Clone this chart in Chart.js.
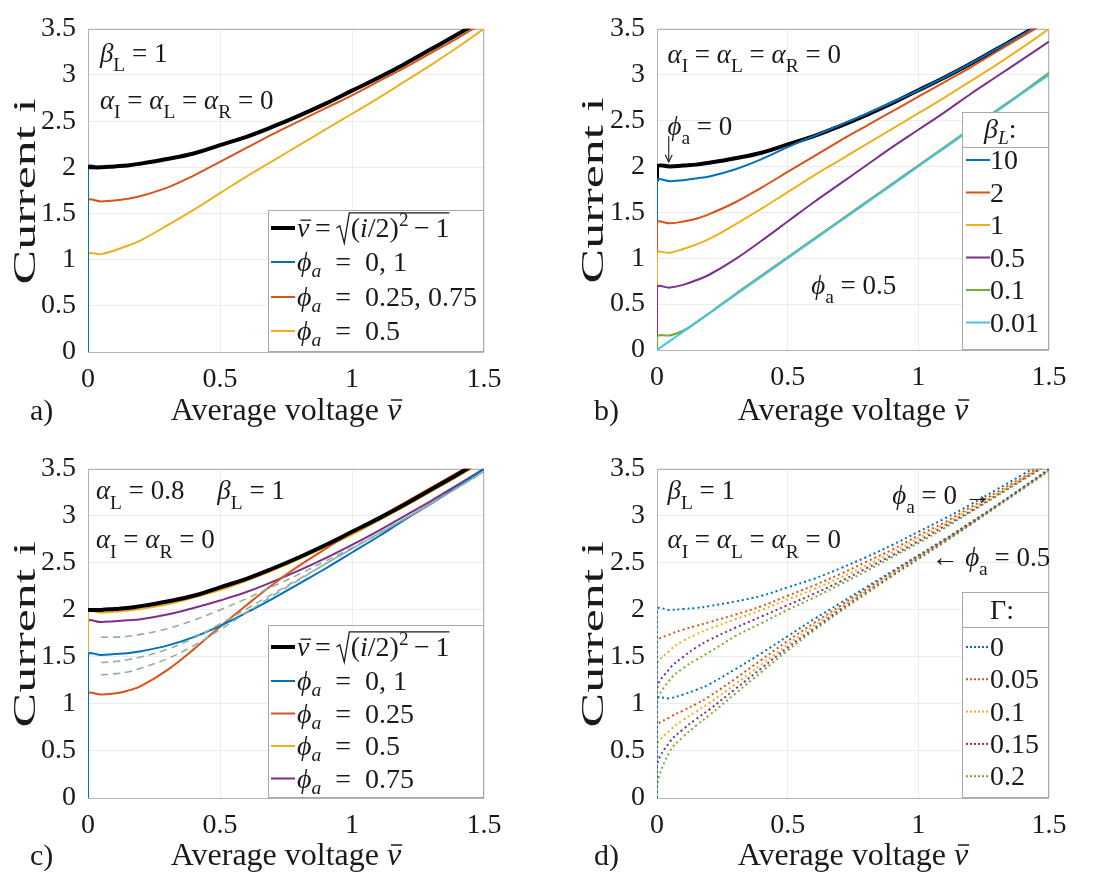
<!DOCTYPE html>
<html>
<head>
<meta charset="utf-8">
<title>SQUID current–voltage characteristics</title>
<script src="https://cdn.jsdelivr.net/npm/chart.js@4.4.1/dist/chart.umd.min.js"></script>
<style>
  html, body { margin: 0; padding: 0; background: #ffffff; }
  #fig { position: relative; width: 1101px; height: 880px; overflow: hidden; }
  #fig canvas { position: absolute; }
</style>
</head>
<body>
<div id="fig">
  <canvas id="panelA" width="550" height="440" style="left:0px;top:0px"></canvas>
  <canvas id="panelB" width="551" height="440" style="left:550px;top:0px"></canvas>
  <canvas id="panelC" width="550" height="440" style="left:0px;top:440px"></canvas>
  <canvas id="panelD" width="551" height="440" style="left:550px;top:440px"></canvas>
</div>
<script>
// ---- shared voltage grid (the repeated 0 gives the vertical zero-voltage branch) ----
const V = [0, 0, 0.05, 0.1, 0.15, 0.2, 0.3, 0.4, 0.5, 0.6, 0.7, 0.8, 0.9, 1.0, 1.1, 1.2, 1.3, 1.4, 1.5];

const xTicks = [0, 0.5, 1, 1.5];
const xTickLabels = ['0', '0.5', '1', '1.5'];
const yTicks = [0, 0.5, 1, 1.5, 2, 2.5, 3, 3.5];
const yTickLabels = ['0', '0.5', '1', '1.5', '2', '2.5', '3', '3.5'];

// ---- a) beta_L = 1, alpha = 0 ----
const aAnalytic = [null, 2.00, 2.00, 2.01, 2.02, 2.04, 2.09, 2.15, 2.24, 2.33, 2.44, 2.56, 2.69, 2.83, 2.97, 3.12, 3.28, 3.44, 3.61];
const aPhi0     = [0, 2.00, 2.00, 2.01, 2.02, 2.04, 2.09, 2.15, 2.24, 2.33, 2.44, 2.56, 2.69, 2.83, 2.97, 3.12, 3.28, 3.44, 3.61];
const aPhi025   = [0, 1.63, 1.63, 1.64, 1.66, 1.69, 1.78, 1.91, 2.06, 2.21, 2.36, 2.50, 2.64, 2.78, 2.93, 3.08, 3.24, 3.40, 3.57];
const aPhi05    = [0, 1.05, 1.06, 1.10, 1.15, 1.21, 1.37, 1.54, 1.72, 1.90, 2.07, 2.24, 2.41, 2.58, 2.75, 2.93, 3.11, 3.30, 3.50];

// ---- b) phi_a = 0.5 for several beta_L ----
const bAnalytic = [1.84, 2.00, 2.00, 2.01, 2.02, 2.04, 2.09, 2.15, 2.24, 2.33, 2.44, 2.56, 2.69, 2.83, 2.97, 3.12, 3.28, 3.44, 3.61];
const bBeta10   = [0, 1.84, 1.84, 1.85, 1.87, 1.89, 1.97, 2.08, 2.21, 2.33, 2.45, 2.57, 2.70, 2.83, 2.97, 3.12, 3.28, 3.44, 3.61];
const bBeta2    = [0, 1.38, 1.38, 1.40, 1.43, 1.48, 1.61, 1.77, 1.94, 2.11, 2.28, 2.44, 2.60, 2.76, 2.92, 3.08, 3.25, 3.42, 3.59];
const bBeta1    = [0, 1.05, 1.06, 1.10, 1.15, 1.21, 1.37, 1.54, 1.72, 1.90, 2.07, 2.24, 2.41, 2.58, 2.75, 2.93, 3.11, 3.30, 3.50];
const bBeta05   = [0, 0.68, 0.68, 0.71, 0.76, 0.82, 0.99, 1.19, 1.40, 1.61, 1.81, 2.01, 2.21, 2.40, 2.59, 2.79, 2.98, 3.17, 3.36];
const bBeta01   = [0, 0.15, 0.16, 0.21, 0.30, 0.40, 0.61, 0.81, 1.01, 1.21, 1.41, 1.61, 1.81, 2.01, 2.21, 2.41, 2.61, 2.81, 3.02];
const bBeta001  = [0, 0.00, 0.10, 0.20, 0.30, 0.40, 0.60, 0.80, 1.00, 1.20, 1.40, 1.60, 1.80, 2.00, 2.20, 2.40, 2.60, 2.80, 3.00];

// ---- c) alpha_L = 0.8, beta_L = 1 ----
const cAnalytic = [null, 2.00, 2.00, 2.01, 2.02, 2.04, 2.09, 2.15, 2.24, 2.33, 2.44, 2.56, 2.69, 2.83, 2.97, 3.12, 3.28, 3.44, 3.61];
const cPhi0     = [0, 1.52, 1.52, 1.53, 1.54, 1.56, 1.62, 1.71, 1.83, 1.97, 2.12, 2.28, 2.44, 2.61, 2.78, 2.96, 3.13, 3.31, 3.50];
const cPhi025   = [0, 1.10, 1.10, 1.11, 1.14, 1.19, 1.36, 1.58, 1.82, 2.05, 2.27, 2.47, 2.65, 2.82, 2.98, 3.14, 3.30, 3.46, 3.62];
const cPhi05    = [0, 1.97, 1.97, 1.98, 1.99, 2.01, 2.06, 2.13, 2.21, 2.31, 2.42, 2.54, 2.67, 2.80, 2.95, 3.10, 3.26, 3.42, 3.58];
const cPhi075   = [0, 1.87, 1.87, 1.88, 1.89, 1.90, 1.95, 2.02, 2.10, 2.19, 2.30, 2.42, 2.55, 2.69, 2.84, 3.00, 3.16, 3.33, 3.50];
const cRef1     = [null, null, 1.71, 1.71, 1.72, 1.74, 1.80, 1.89, 2.00, 2.12, 2.25, 2.38, 2.52, 2.66, 2.81, 2.97, 3.13, 3.30, 3.47];
const cRef2     = [null, null, 1.44, 1.45, 1.47, 1.50, 1.58, 1.70, 1.85, 2.01, 2.17, 2.33, 2.49, 2.65, 2.81, 2.97, 3.13, 3.30, 3.47];
const cRef3     = [null, null, 1.31, 1.32, 1.34, 1.38, 1.48, 1.62, 1.79, 1.97, 2.15, 2.32, 2.49, 2.65, 2.81, 2.97, 3.13, 3.30, 3.47];

// ---- d) thermal noise Gamma, phi_a = 0 (upper) and 0.5 (lower) ----
const dGammaLabels = ['0', '0.05', '0.1', '0.15', '0.2'];
const dUpper = [
  [0, 2.00, 2.00, 2.01, 2.02, 2.04, 2.09, 2.15, 2.24, 2.33, 2.44, 2.56, 2.69, 2.83, 2.97, 3.12, 3.28, 3.44, 3.61],
  [0, 1.65, 1.74, 1.79, 1.83, 1.87, 1.95, 2.04, 2.15, 2.26, 2.38, 2.51, 2.64, 2.79, 2.93, 3.09, 3.25, 3.41, 3.58],
  [0, 1.40, 1.57, 1.67, 1.74, 1.80, 1.90, 2.00, 2.11, 2.22, 2.34, 2.47, 2.61, 2.76, 2.91, 3.07, 3.23, 3.40, 3.57],
  [0, 1.15, 1.38, 1.50, 1.60, 1.68, 1.81, 1.93, 2.05, 2.17, 2.30, 2.44, 2.58, 2.73, 2.89, 3.05, 3.22, 3.39, 3.56],
  [0, 1.00, 1.26, 1.38, 1.47, 1.55, 1.72, 1.86, 2.00, 2.13, 2.27, 2.41, 2.56, 2.71, 2.87, 3.04, 3.21, 3.38, 3.55]
];
const dLower = [
  [0, 1.05, 1.06, 1.10, 1.15, 1.21, 1.37, 1.54, 1.72, 1.90, 2.07, 2.24, 2.41, 2.58, 2.75, 2.93, 3.11, 3.30, 3.50],
  [0, 0.75, 0.86, 0.93, 1.00, 1.08, 1.27, 1.47, 1.67, 1.86, 2.04, 2.22, 2.40, 2.57, 2.74, 2.92, 3.11, 3.30, 3.49],
  [0, 0.55, 0.72, 0.83, 0.92, 1.01, 1.21, 1.42, 1.63, 1.83, 2.02, 2.20, 2.38, 2.56, 2.74, 2.92, 3.10, 3.29, 3.48],
  [0, 0.35, 0.60, 0.73, 0.84, 0.94, 1.16, 1.38, 1.60, 1.80, 2.00, 2.19, 2.37, 2.55, 2.73, 2.91, 3.10, 3.29, 3.48],
  [0, 0.15, 0.50, 0.65, 0.77, 0.88, 1.11, 1.34, 1.57, 1.78, 1.98, 2.17, 2.36, 2.54, 2.72, 2.91, 3.10, 3.29, 3.48]
];

const bBetaLabels = ['10', '2', '1', '0.5', '0.1', '0.01'];

// ---------------------------------------------------------------------------
const COL = { blue: '#0072BD', red: '#D95319', yellow: '#EDB120', purple: '#7E2F8E', green: '#77AC30', cyan: '#4DBEEE' };
const ORDER = [COL.blue, COL.red, COL.yellow, COL.purple, COL.green, COL.cyan];
const INK = '#1a1a1a';

// a face counts as serif only if its capital I really has wider feet than stem
function hasSerifs(family) {
  const cv = document.createElement('canvas');
  cv.width = 220; cv.height = 220;
  const c = cv.getContext('2d');
  c.fillStyle = '#ffffff'; c.fillRect(0, 0, 220, 220);
  c.fillStyle = '#000000';
  c.font = '150px ' + family + ', sans-serif';
  c.textBaseline = 'alphabetic';
  c.fillText('I', 60, 180);
  const img = c.getImageData(0, 0, 220, 220).data;
  const ink = row => { let n = 0; for (let x = 0; x < 220; x++) if (img[(row * 220 + x) * 4] < 128) n++; return n; };
  let top = -1, bot = -1;
  for (let y = 0; y < 220; y++) if (ink(y) > 0) { if (top < 0) top = y; bot = y; }
  if (top < 0) return false;
  return ink(bot - 2) > 1.6 * ink(Math.round((top + bot) / 2));
}
function pickSerif(list) {
  for (const f of list) if (hasSerifs(f)) return f + ', serif';
  return '"DejaVu Serif", serif';
}
const SERIF = pickSerif(['"Liberation Serif"', '"DejaVu Serif"', 'Tinos', '"Times New Roman"', '"Noto Serif"', 'FreeSerif', '"Nimbus Roman"', 'serif']);
const fnt = (size, italic) => (italic ? 'italic ' : '') + size + 'px ' + SERIF;

const pts = ys => V.map((v, k) => ({ x: v, y: ys[k] }));

function line(ys, color, width, dash) {
  return {
    data: pts(ys), borderColor: color, borderWidth: width, borderDash: dash || [],
    pointRadius: 0, tension: 0.4, fill: false, spanGaps: false
  };
}

// rich text: parts = [[text, kind]], kind: r roman, i italic, sub, subi, sup
function rich(ctx, x, y, parts, size, measureOnly) {
  let cx = x;
  ctx.save();
  ctx.textBaseline = 'alphabetic';
  ctx.textAlign = 'left';
  ctx.fillStyle = INK;
  for (const [t, k] of parts) {
    let s = size, dy = 0, it = false;
    if (k === 'i') it = true;
    if (k === 'sub') { s = size * 0.72; dy = size * 0.34; }
    if (k === 'subi') { s = size * 0.7; dy = size * 0.22; it = true; }
    if (k === 'sup') { s = size * 0.68; dy = -size * 0.4; }
    ctx.font = fnt(s, it);
    if (!measureOnly) ctx.fillText(t, cx, y + dy);
    cx += ctx.measureText(t).width;
  }
  ctx.restore();
  return cx - x;
}

// v-bar = sqrt((i/2)^2 - 1)
function formula(ctx, x, y, size) {
  ctx.save();
  ctx.strokeStyle = INK; ctx.lineWidth = 1.3;
  ctx.font = fnt(size, true);
  const wv = ctx.measureText('v').width;
  rich(ctx, x, y, [['v', 'i']], size);
  ctx.beginPath(); ctx.moveTo(x + size * 0.12, y - size * 0.6); ctx.lineTo(x + wv + size * 0.06, y - size * 0.6); ctx.stroke();
  let cx = x + wv;
  cx += rich(ctx, cx, y, [['\u2009=\u2009', 'r']], size);
  const top = y - size * 0.86;
  const rx = cx;
  const content = [['(', 'r'], ['i', 'i'], ['/2)', 'r'], ['2', 'sup'], ['\u2009\u2212\u20091', 'r']];
  const cw = rich(ctx, 0, 0, content, size, true);
  const sx = rx + size * 0.46;
  ctx.beginPath();
  ctx.moveTo(rx, y - size * 0.32);
  ctx.lineTo(rx + size * 0.12, y - size * 0.4);
  ctx.lineTo(rx + size * 0.28, y + size * 0.22);
  ctx.lineTo(sx, top);
  ctx.lineTo(sx + size * 0.05 + cw, top);
  ctx.stroke();
  rich(ctx, sx + size * 0.05, y, content, size);
  ctx.restore();
}

function arrow(ctx, x1, y1, x2, y2) {
  ctx.save();
  ctx.strokeStyle = INK; ctx.lineWidth = 1.1;
  ctx.beginPath(); ctx.moveTo(x1, y1); ctx.lineTo(x2, y2); ctx.stroke();
  const a = Math.atan2(y2 - y1, x2 - x1), h = 8;
  ctx.beginPath();
  ctx.moveTo(x2 - h * Math.cos(a - 0.45), y2 - h * Math.sin(a - 0.45));
  ctx.lineTo(x2, y2);
  ctx.lineTo(x2 - h * Math.cos(a + 0.45), y2 - h * Math.sin(a + 0.45));
  ctx.stroke();
  ctx.restore();
}

// legend box anchored to the lower right corner of the axes
function legendBox(ctx, area, w, h) {
  const x = area.right - w, y = area.bottom - h;
  ctx.save();
  ctx.fillStyle = '#ffffff';
  ctx.fillRect(x, y, w, h);
  ctx.strokeStyle = '#a8a8a8'; ctx.lineWidth = 1;
  ctx.strokeRect(x + 0.5, y + 0.5, w - 1, h - 1);
  ctx.restore();
  return { x, y };
}
function sample(ctx, x, y, color, width, dash) {
  ctx.save();
  ctx.strokeStyle = color; ctx.lineWidth = width; ctx.setLineDash(dash || []);
  ctx.beginPath(); ctx.moveTo(x, y); ctx.lineTo(x + 24, y); ctx.stroke();
  ctx.restore();
}

const TICK = 28, TXT = 27, LEG = 28, TITLE = 32;

function make(id, geom, datasets, overlay) {
  const cv = document.getElementById(id);
  const W = cv.width, H = cv.height;
  const tickFont = { family: SERIF, size: TICK };
  const framePlugin = {
    id: 'frame',
    beforeDatasetsDraw(chart) {
      const { ctx, chartArea: a } = chart;
      ctx.save();
      ctx.strokeStyle = '#b4b4b4'; ctx.lineWidth = 1;
      ctx.strokeRect(Math.round(a.left) + 0.5, Math.round(a.top) + 0.5, Math.round(a.right - a.left) - 1, Math.round(a.bottom - a.top));
      ctx.restore();
    },
    afterDraw(chart) {
      const { ctx, chartArea: a, scales } = chart;
      const px = v => scales.x.getPixelForValue(v);
      const py = v => scales.y.getPixelForValue(v);
      // vertical axis title, stretched along its length
      ctx.save();
      ctx.fillStyle = INK;
      ctx.textBaseline = 'middle';
      ctx.textAlign = 'center';
      ctx.font = fnt(TITLE, false);
      const tw = ctx.measureText('Current i').width;
      ctx.translate(geom.yTitleX, (a.top + a.bottom) / 2 + 1);
      ctx.rotate(-Math.PI / 2);
      ctx.scale(186 / tw, 1);
      ctx.fillText('Current i', 0, 0);
      ctx.restore();
      // horizontal axis title with barred v, and the panel letter
      ctx.save();
      ctx.fillStyle = INK;
      ctx.textBaseline = 'middle';
      ctx.font = fnt(TITLE, false);
      const t1 = 'Average voltage ';
      const w1 = ctx.measureText(t1).width;
      ctx.font = fnt(TITLE, true);
      const w2 = ctx.measureText('v').width;
      const cx = (a.left + a.right) / 2 - (w1 + w2) / 2;
      const ty = geom.xTitleY;
      ctx.font = fnt(TITLE, false);
      ctx.textAlign = 'left';
      ctx.fillText(t1, cx, ty);
      ctx.font = fnt(TITLE, true);
      ctx.fillText('v', cx + w1, ty);
      ctx.strokeStyle = INK; ctx.lineWidth = 1.5;
      ctx.beginPath(); ctx.moveTo(cx + w1 + 4, ty - 12); ctx.lineTo(cx + w1 + w2 + 1, ty - 12); ctx.stroke();
      ctx.font = fnt(30, false);
      ctx.fillText(geom.letter, geom.letterX, ty);
      ctx.restore();
      overlay(ctx, a, px, py);
    }
  };
  return new Chart(cv, {
    type: 'line',
    data: { datasets },
    plugins: [framePlugin],
    options: {
      responsive: false,
      animation: false,
      events: [],
      layout: { padding: { left: 0, top: geom.top, right: W - geom.right, bottom: 0 } },
      plugins: { legend: { display: false }, tooltip: { enabled: false } },
      scales: {
        x: {
          type: 'linear', min: 0, max: 1.5,
          afterBuildTicks: s => { s.ticks = xTicks.map(v => ({ value: v })); },
          afterFit: s => { s.height = H - geom.bottom; },
          ticks: { font: tickFont, color: INK, padding: 11, maxRotation: 0, callback: (v, i) => xTickLabels[i] },
          grid: { color: '#ececec', lineWidth: 1, drawTicks: false },
          border: { display: false }
        },
        y: {
          type: 'linear', min: 0, max: 3.5,
          afterBuildTicks: s => { s.ticks = yTicks.map(v => ({ value: v })); },
          afterFit: s => { s.width = geom.left; },
          ticks: { font: tickFont, color: INK, padding: 12, callback: (v, i) => yTickLabels[i] },
          grid: { color: '#ececec', lineWidth: 1, drawTicks: false },
          border: { display: false }
        }
      }
    }
  });
}

const phiA = v => [['\u03D5', 'i'], ['a', 'subi'], ['\u2002=\u2002' + v, 'r']];
const phiAnn = v => [['\u03D5', 'i'], ['a', 'sub'], [' = ' + v, 'r']];
const alphaAll = [['\u03B1', 'i'], ['I', 'sub'], [' = ', 'r'], ['\u03B1', 'i'], ['L', 'sub'], [' = ', 'r'], ['\u03B1', 'i'], ['R', 'sub'], [' = 0', 'r']];
const betaOne = [['\u03B2', 'i'], ['L', 'sub'], [' = 1', 'r']];

// ---- a) ----
make('panelA', { left: 88, right: 484, top: 20, bottom: 352, yTitleX: 27, xTitleY: 412, letter: 'a)', letterX: 30 }, [
  line(aAnalytic, '#000000', 4),
  line(aPhi0, COL.blue, 2),
  line(aPhi025, COL.red, 2),
  line(aPhi05, COL.yellow, 2)
], (ctx, a, px, py) => {
  rich(ctx, px(0.045), py(3.24) + 9, betaOne, TXT);
  rich(ctx, px(0.045), py(2.73) + 9, alphaAll, TXT);
  const L = legendBox(ctx, a, 216, 142);
  const rows = [18, 52, 87, 121];
  sample(ctx, L.x + 3, L.y + rows[0], '#000000', 4);
  formula(ctx, L.x + 29, L.y + rows[0] + 9, LEG);
  const labs = ['0, 1', '0.25, 0.75', '0.5'];
  const cols = [COL.blue, COL.red, COL.yellow];
  for (let k = 0; k < 3; k++) {
    sample(ctx, L.x + 3, L.y + rows[k + 1], cols[k], 2);
    rich(ctx, L.x + 29, L.y + rows[k + 1] + 9, phiA(labs[k]), LEG);
  }
});

// ---- b) ----
make('panelB', { left: 107, right: 499, top: 20, bottom: 350, yTitleX: 45, xTitleY: 412, letter: 'b)', letterX: 44 }, [
  line(bBeta001, COL.cyan, 2),
  line(bBeta01, COL.green, 2.2),
  line(bBeta05, COL.purple, 2),
  line(bBeta1, COL.yellow, 2),
  line(bBeta2, COL.red, 2),
  line(bBeta10, COL.blue, 2),
  line(bAnalytic, '#000000', 4)
], (ctx, a, px, py) => {
  rich(ctx, px(0.04), py(3.23) + 9, alphaAll, TXT);
  rich(ctx, px(0.04), py(2.44) + 9, phiAnn('0'), TXT);
  arrow(ctx, px(0.045), py(2.33), px(0.045), py(2.05));
  rich(ctx, px(0.59), py(0.71) + 9, phiAnn('0.5'), TXT);
  const L = legendBox(ctx, a, 87, 238);
  ctx.save();
  ctx.strokeStyle = '#a8a8a8'; ctx.lineWidth = 1;
  ctx.beginPath(); ctx.moveTo(L.x, L.y + 35.5); ctx.lineTo(L.x + 87, L.y + 35.5); ctx.stroke();
  ctx.restore();
  rich(ctx, L.x + 22, L.y + 26, [['\u03B2', 'i'], ['L', 'subi'], [':', 'r']], LEG);
  for (let k = 0; k < 6; k++) {
    const ry = L.y + 48 + k * 32.5;
    sample(ctx, L.x + 4, ry, ORDER[k], 2);
    rich(ctx, L.x + 28, ry + 9, [[bBetaLabels[k], 'r']], LEG);
  }
});

// ---- c) ----
make('panelC', { left: 88, right: 484, top: 27, bottom: 358, yTitleX: 27, xTitleY: 417, letter: 'c)', letterX: 30 }, [
  line(cRef1, '#8fb0a0', 1.6, [7, 5]),
  line(cRef2, '#8fb0a0', 1.6, [7, 5]),
  line(cRef3, '#8fb0a0', 1.6, [7, 5]),
  line(cAnalytic, '#000000', 4),
  line(cPhi0, COL.blue, 2),
  line(cPhi025, COL.red, 2),
  line(cPhi05, COL.yellow, 2),
  line(cPhi075, COL.purple, 2)
], (ctx, a, px, py) => {
  rich(ctx, px(0.03), py(3.27) + 9, [['\u03B1', 'i'], ['L', 'sub'], [' = 0.8', 'r']], TXT);
  rich(ctx, px(0.49), py(3.27) + 9, betaOne, TXT);
  rich(ctx, px(0.03), py(2.75) + 9, [['\u03B1', 'i'], ['I', 'sub'], [' = ', 'r'], ['\u03B1', 'i'], ['R', 'sub'], [' = 0', 'r']], TXT);
  const L = legendBox(ctx, a, 216, 173);
  sample(ctx, L.x + 3, L.y + 22, '#000000', 4);
  formula(ctx, L.x + 29, L.y + 31, LEG);
  const labs = ['0, 1', '0.25', '0.5', '0.75'];
  const cols = [COL.blue, COL.red, COL.yellow, COL.purple];
  for (let k = 0; k < 4; k++) {
    const ry = L.y + 56 + k * 32.5;
    sample(ctx, L.x + 3, ry, cols[k], 2);
    rich(ctx, L.x + 29, ry + 9, phiA(labs[k]), LEG);
  }
});

// ---- d) ----
const dSets = [];
for (let g = 0; g < 5; g++) {
  dSets.push(line(dUpper[g], ORDER[g], 2, [2, 3]));
  dSets.push(line(dLower[g], ORDER[g], 2, [2, 3]));
}
make('panelD', { left: 107, right: 499, top: 27, bottom: 358, yTitleX: 45, xTitleY: 417, letter: 'd)', letterX: 44 }, dSets,
(ctx, a, px, py) => {
  rich(ctx, px(0.04), py(3.27) + 9, betaOne, TXT);
  rich(ctx, px(0.04), py(2.75) + 9, alphaAll, TXT);
  rich(ctx, px(0.9), py(3.22) + 9, phiAnn('0 \u2192'), TXT);
  rich(ctx, px(1.05), py(2.56) + 9, [['\u2190 ', 'r']].concat(phiAnn('0.5')), TXT);
  const L = legendBox(ctx, a, 87, 206);
  ctx.save();
  ctx.strokeStyle = '#a8a8a8'; ctx.lineWidth = 1;
  ctx.beginPath(); ctx.moveTo(L.x, L.y + 35.5); ctx.lineTo(L.x + 87, L.y + 35.5); ctx.stroke();
  ctx.restore();
  rich(ctx, L.x + 28, L.y + 27, [['\u0393:', 'r']], LEG);
  for (let k = 0; k < 5; k++) {
    const ry = L.y + 55 + k * 32.3;
    sample(ctx, L.x + 4, ry, ORDER[k], 2, [2, 2]);
    rich(ctx, L.x + 28, ry + 9, [[dGammaLabels[k], 'r']], LEG);
  }
});
</script>
</body>
</html>
